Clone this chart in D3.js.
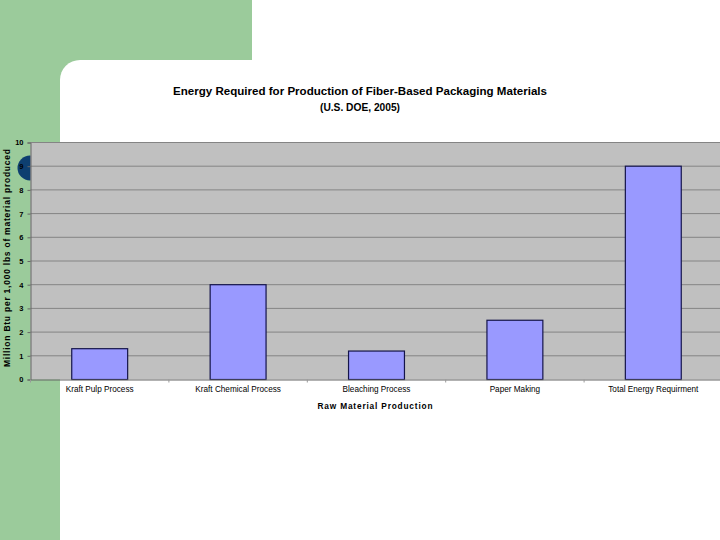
<!DOCTYPE html>
<html><head><meta charset="utf-8">
<script src="https://cdn.jsdelivr.net/npm/d3@7"></script>
<style>html,body{margin:0;padding:0;background:#fff;}svg{display:block;font-family:"Liberation Sans",Arial,sans-serif;}</style>
</head><body>
<script>
const categories = ["Kraft Pulp Process","Kraft Chemical Process","Bleaching Process","Paper Making","Total Energy Requirment"];
const values = [1.3, 4.0, 1.2, 2.5, 9.0];
const yTicks = [0,1,2,3,4,5,6,7,8,9,10];
const titleLines = ["Energy Required for Production of Fiber-Based Packaging Materials","(U.S. DOE, 2005)"];
const xTitle = "Raw Material Production";
const yTitle = "Million Btu per 1,000 lbs of material produced";

(function(){
const W = 720, H = 540;
const svg = d3.select("body").append("svg").attr("width", W).attr("height", H);

// slide background
svg.append("rect").attr("width", W).attr("height", H).attr("fill", "#ffffff");
const green = "#9bcb9b";
svg.append("rect").attr("x",0).attr("y",0).attr("width",252).attr("height",60).attr("fill",green);
svg.append("rect").attr("x",0).attr("y",0).attr("width",60).attr("height",H).attr("fill",green);
svg.append("rect").attr("x",60).attr("y",60).attr("width",20).attr("height",20).attr("fill",green);
svg.append("rect").attr("x",60).attr("y",60).attr("width",800).attr("height",600).attr("rx",20).attr("fill","#ffffff");
svg.append("circle").attr("cx",30).attr("cy",168).attr("r",12.5).attr("fill","#0e3f70");

const pL = 30.5, pR = 722.5, pT = 142.5, pB = 379.5;
const x = d3.scaleBand().domain(categories).range([pL, pR]).paddingInner(0.596).paddingOuter(0.298);
const y = d3.scaleLinear().domain([0, 10]).range([pB, pT]);

// plot area
svg.append("rect").attr("x", pL).attr("y", pT).attr("width", pR-pL).attr("height", pB-pT)
  .attr("fill", "#c0c0c0");

// gridlines
svg.append("g").selectAll("line").data(yTicks.filter(d=>d>0)).join("line")
  .attr("x1", pL).attr("x2", pR).attr("y1", d=>y(d)).attr("y2", d=>y(d))
  .attr("stroke", "#848484").attr("stroke-width", 1);

// bars
svg.append("g").selectAll("rect").data(values).join("rect")
  .attr("x", (d,i)=>x(categories[i])).attr("width", x.bandwidth())
  .attr("y", d=>y(d)).attr("height", d=>pB - y(d))
  .attr("fill", "#9999ff").attr("stroke", "#14144a").attr("stroke-width", 1.2);

// y axis
const yAxis = svg.append("g").attr("transform", `translate(${pL},0)`)
  .call(d3.axisLeft(y).tickValues(yTicks).tickSize(3).tickPadding(4).tickFormat(d3.format("d")));
yAxis.select(".domain").attr("stroke", "#666");
yAxis.selectAll(".tick line").attr("stroke", "#666");
yAxis.selectAll("text").attr("font-size", 7.5).attr("fill", "#000").attr("font-weight","bold")
  .attr("font-family", '"Liberation Sans",Arial,sans-serif');

// x axis
const bounds = d3.range(categories.length + 1).map(i => pL + i * x.step());
const xAxis = svg.append("g").attr("transform", `translate(0,${pB})`)
  .call(d3.axisBottom(x).tickSize(0).tickPadding(7));
xAxis.select(".domain").attr("stroke", "#666");
xAxis.selectAll("text").attr("font-size", 8.2).attr("fill", "#000")
  .attr("font-family", '"Liberation Sans",Arial,sans-serif');
svg.append("g").selectAll("line").data(bounds).join("line")
  .attr("x1", d=>d).attr("x2", d=>d).attr("y1", pB).attr("y2", pB+3)
  .attr("stroke", "#999");

// titles
svg.append("text").attr("x", 360).attr("y", 95).attr("text-anchor","middle")
  .attr("font-size", 11.5).attr("font-weight","bold").attr("textLength", 374).attr("lengthAdjust","spacingAndGlyphs")
  .text(titleLines[0]);
svg.append("text").attr("x", 360).attr("y", 111).attr("text-anchor","middle")
  .attr("font-size", 11.5).attr("font-weight","bold").attr("textLength", 80).attr("lengthAdjust","spacingAndGlyphs")
  .text(titleLines[1]);
svg.append("text").attr("x", 375).attr("y", 409).attr("text-anchor","middle")
  .attr("font-size", 8.3).attr("font-weight","bold").attr("textLength", 115).attr("lengthAdjust","spacing")
  .text(xTitle);
svg.append("text").attr("transform", "translate(10,258) rotate(-90)").attr("text-anchor","middle")
  .attr("font-size", 8.5).attr("font-weight","bold").attr("textLength", 218).attr("lengthAdjust","spacing")
  .text(yTitle);
})();
</script>
</body></html>
